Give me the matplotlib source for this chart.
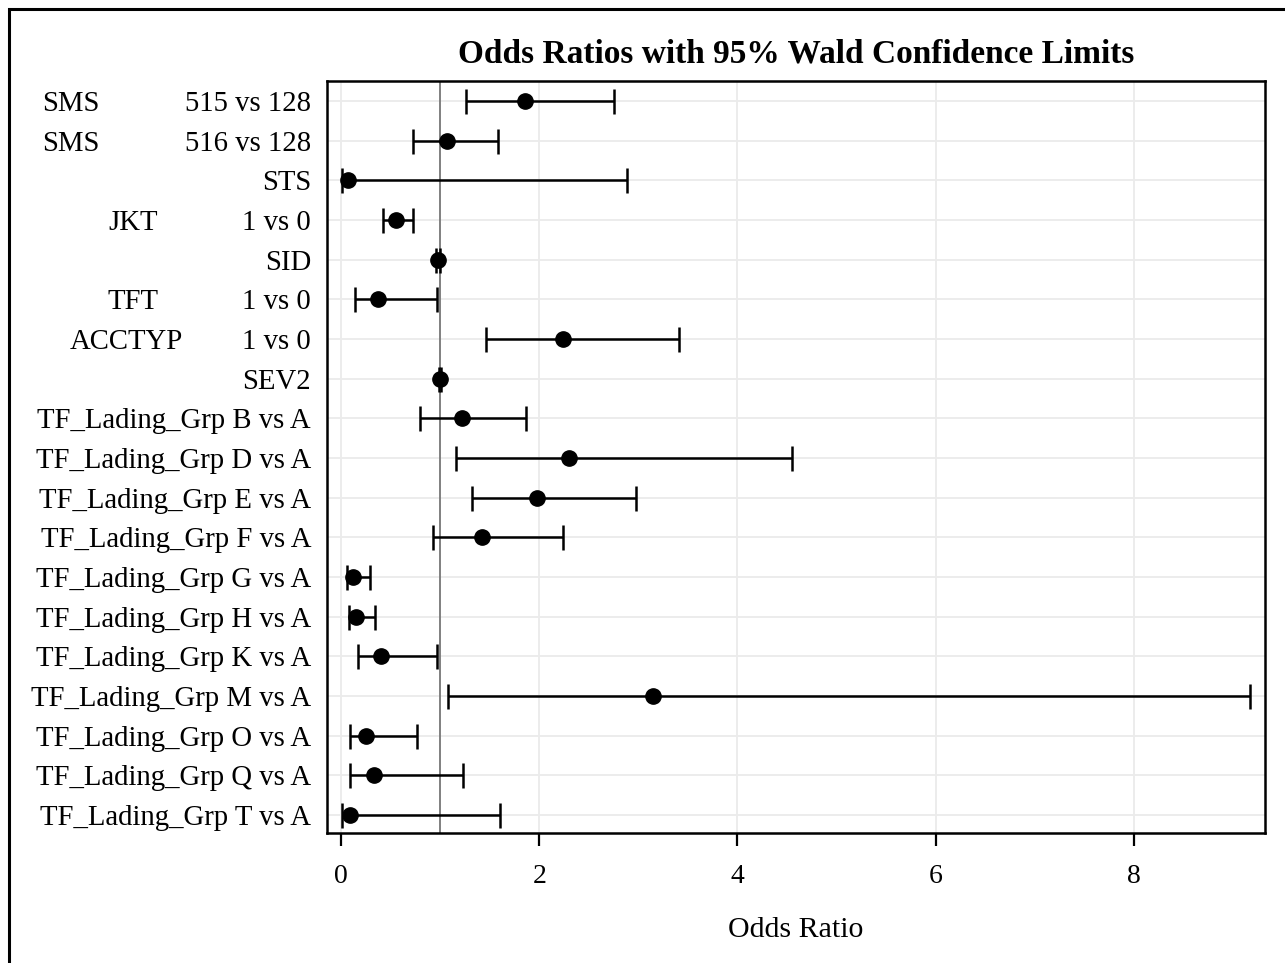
import matplotlib.pyplot as plt
from matplotlib.transforms import blended_transform_factory
from matplotlib.patches import Rectangle

# =========================
# Data
# =========================
effects = ["SMS", "SMS", "", "JKT", "", "TFT", "ACCTYP", "",
           "", "", "", "", "", "", "", "", "", "", ""]
comparisons = ["515 vs 128", "516 vs 128", "STS", "1 vs 0", "SID", "1 vs 0",
               "1 vs 0", "SEV2",
               "TF_Lading_Grp B vs A", "TF_Lading_Grp D vs A",
               "TF_Lading_Grp E vs A", "TF_Lading_Grp F vs A",
               "TF_Lading_Grp G vs A", "TF_Lading_Grp H vs A",
               "TF_Lading_Grp K vs A", "TF_Lading_Grp M vs A",
               "TF_Lading_Grp O vs A", "TF_Lading_Grp Q vs A",
               "TF_Lading_Grp T vs A"]
odds = [1.86, 1.07, 0.07, 0.56, 0.98, 0.37, 2.24, 1.00,
        1.22, 2.30, 1.98, 1.42, 0.12, 0.15, 0.40, 3.15, 0.25, 0.33, 0.09]
lower = [1.26, 0.73, 0.01, 0.42, 0.96, 0.14, 1.46, 0.99,
         0.80, 1.16, 1.32, 0.93, 0.06, 0.08, 0.17, 1.08, 0.09, 0.09, 0.01]
upper = [2.75, 1.58, 2.89, 0.73, 1.00, 0.97, 3.41, 1.01,
         1.87, 4.55, 2.98, 2.24, 0.29, 0.34, 0.97, 9.17, 0.77, 1.23, 1.60]
# x position (pixels) of the left column text
effect_x = {"SMS": 42, "JKT": 108, "TFT": 107, "ACCTYP": 70}

# =========================
# Figure
# =========================
plt.rcParams['font.family'] = ['Liberation Serif', 'DejaVu Serif']
W, H = 1285, 963
fig = plt.figure(figsize=(W / 100, H / 100), dpi=100)
ax = fig.add_axes([327 / W, 1 - 833 / H, (1265 - 327) / W, (833 - 81) / H])

rows = list(range(len(odds)))
xerr = [[o - l for o, l in zip(odds, lower)], [u - o for o, u in zip(odds, upper)]]

ax.axvline(1, color='#808080', lw=1.4, zorder=2)
ax.errorbar(odds, rows, xerr=xerr, fmt='o', color='black', ms=11,
            elinewidth=1.8, capsize=9, capthick=1.8, zorder=3)

ax.set_xlim(-0.14, 9.32)
ax.set_ylim(18.45, -0.5)
ax.set_xticks([0, 2, 4, 6, 8])
ax.set_yticks(rows)
ax.set_yticklabels(comparisons)
ax.tick_params(axis='y', length=0, pad=11.5, labelsize=20.7)
ax.tick_params(axis='x', length=9.5, width=1.6, pad=13, labelsize=20)
ax.grid(True, color='#ebebeb', lw=1.3, zorder=0)
ax.set_axisbelow(True)
for s in ax.spines.values():
    s.set_linewidth(1.8)

trans = blended_transform_factory(fig.transFigure, ax.transData)
for r, e in enumerate(effects):
    if e:
        ax.text(effect_x[e] / W, r, e, transform=trans, ha='left',
                va='center_baseline', fontsize=20.7)

ax.set_xlabel("Odds Ratio", fontsize=21.5, labelpad=20)
ax.set_title("Odds Ratios with 95% Wald Confidence Limits", fontsize=24,
             fontweight='bold', pad=13)

# outer frame (only top and left are visible in the reference)
fig.patches.append(Rectangle((9 / W, -0.1), 1.2, 1.1 - 9 / H,
                             transform=fig.transFigure, fill=False,
                             lw=2.2, ec='black'))

fig.savefig("out.png", dpi=100)
